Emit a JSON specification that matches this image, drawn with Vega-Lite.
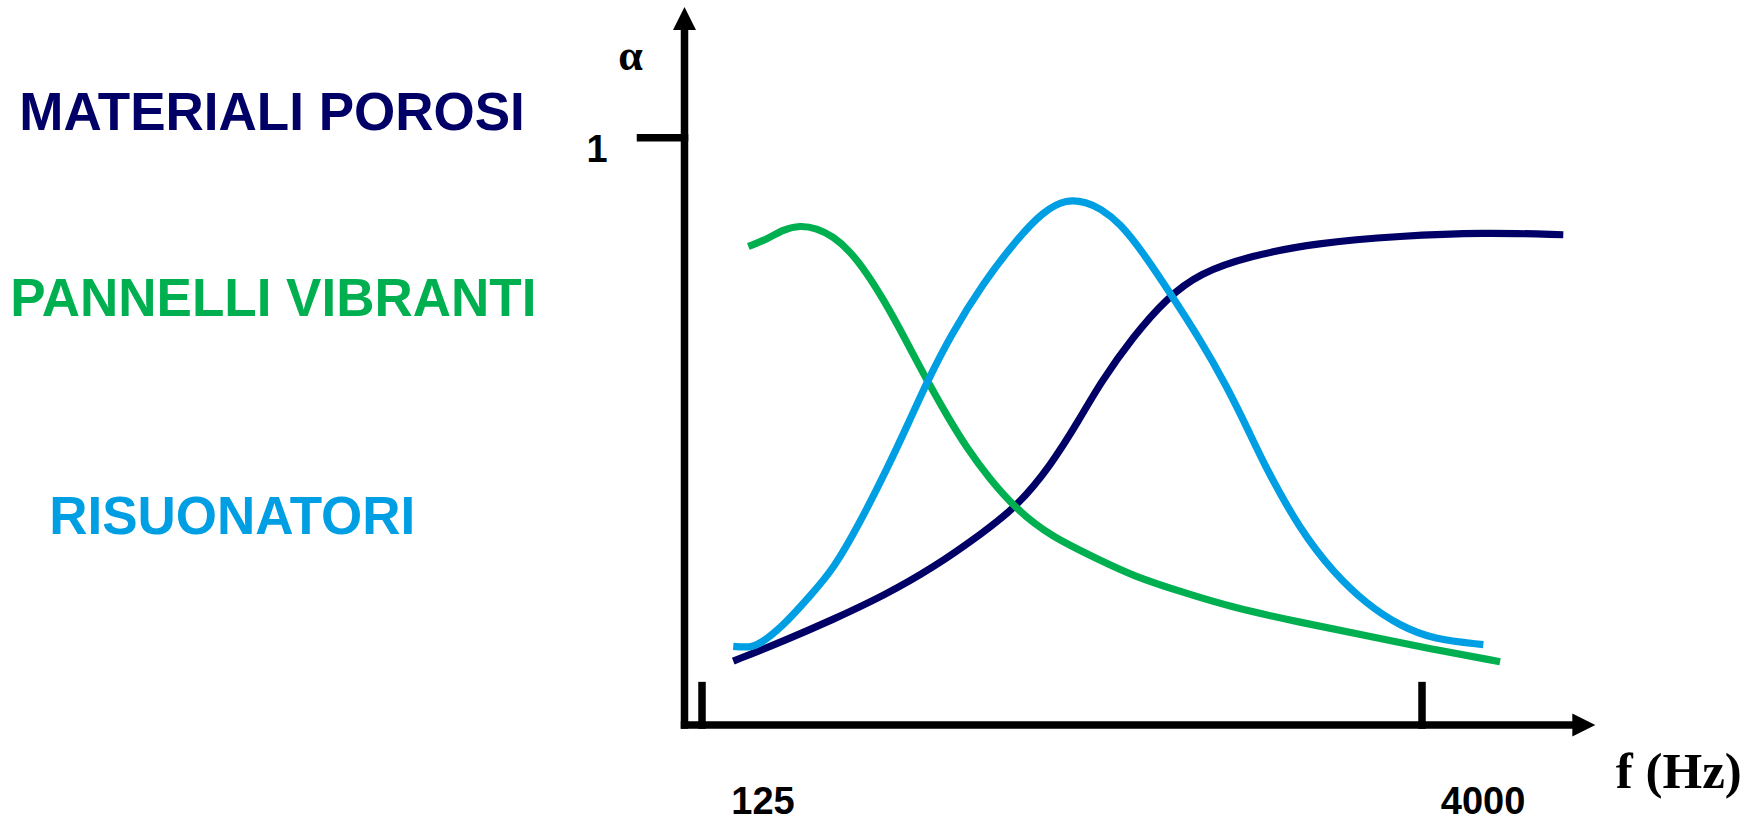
{
  "$schema": "https://vega.github.io/schema/vega-lite/v6.json",
  "width": 1752,
  "height": 822,
  "autosize": {"type": "fit", "contains": "padding"},
  "padding": 0,
  "background": "white",
  "config": {"view": {"stroke": null}},
  "datasets": {
    "curves": [
      {"series": "MATERIALI POROSI", "f": 145.3, "a": 0.109},
      {"series": "MATERIALI POROSI", "f": 184.9, "a": 0.143},
      {"series": "MATERIALI POROSI", "f": 235.2, "a": 0.180},
      {"series": "MATERIALI POROSI", "f": 299.2, "a": 0.220},
      {"series": "MATERIALI POROSI", "f": 380.6, "a": 0.268},
      {"series": "MATERIALI POROSI", "f": 484.1, "a": 0.328},
      {"series": "MATERIALI POROSI", "f": 568.5, "a": 0.372},
      {"series": "MATERIALI POROSI", "f": 667.4, "a": 0.440},
      {"series": "MATERIALI POROSI", "f": 771.1, "a": 0.522},
      {"series": "MATERIALI POROSI", "f": 849, "a": 0.582},
      {"series": "MATERIALI POROSI", "f": 996.6, "a": 0.662},
      {"series": "MATERIALI POROSI", "f": 1170.5, "a": 0.727},
      {"series": "MATERIALI POROSI", "f": 1373.9, "a": 0.770},
      {"series": "MATERIALI POROSI", "f": 1747.9, "a": 0.799},
      {"series": "MATERIALI POROSI", "f": 2410, "a": 0.821},
      {"series": "MATERIALI POROSI", "f": 3598, "a": 0.833},
      {"series": "MATERIALI POROSI", "f": 5374, "a": 0.839},
      {"series": "MATERIALI POROSI", "f": 7896, "a": 0.835},
      {"series": "PANNELLI VIBRANTI", "f": 156.2, "a": 0.815},
      {"series": "PANNELLI VIBRANTI", "f": 170.7, "a": 0.827},
      {"series": "PANNELLI VIBRANTI", "f": 184.9, "a": 0.844},
      {"series": "PANNELLI VIBRANTI", "f": 200.3, "a": 0.851},
      {"series": "PANNELLI VIBRANTI", "f": 217.1, "a": 0.846},
      {"series": "PANNELLI VIBRANTI", "f": 235.2, "a": 0.832},
      {"series": "PANNELLI VIBRANTI", "f": 254.9, "a": 0.807},
      {"series": "PANNELLI VIBRANTI", "f": 276.2, "a": 0.770},
      {"series": "PANNELLI VIBRANTI", "f": 299.2, "a": 0.725},
      {"series": "PANNELLI VIBRANTI", "f": 324.2, "a": 0.674},
      {"series": "PANNELLI VIBRANTI", "f": 351.4, "a": 0.620},
      {"series": "PANNELLI VIBRANTI", "f": 374.6, "a": 0.578},
      {"series": "PANNELLI VIBRANTI", "f": 408.5, "a": 0.524},
      {"series": "PANNELLI VIBRANTI", "f": 446.9, "a": 0.472},
      {"series": "PANNELLI VIBRANTI", "f": 500, "a": 0.418},
      {"series": "PANNELLI VIBRANTI", "f": 568.5, "a": 0.367},
      {"series": "PANNELLI VIBRANTI", "f": 667.4, "a": 0.322},
      {"series": "PANNELLI VIBRANTI", "f": 849, "a": 0.281},
      {"series": "PANNELLI VIBRANTI", "f": 995.3, "a": 0.254},
      {"series": "PANNELLI VIBRANTI", "f": 1265.8, "a": 0.226},
      {"series": "PANNELLI VIBRANTI", "f": 1610.6, "a": 0.200},
      {"series": "PANNELLI VIBRANTI", "f": 2223.6, "a": 0.175},
      {"series": "PANNELLI VIBRANTI", "f": 3065, "a": 0.152},
      {"series": "PANNELLI VIBRANTI", "f": 4218, "a": 0.129},
      {"series": "PANNELLI VIBRANTI", "f": 5824, "a": 0.108},
      {"series": "RISUONATORI", "f": 145.3, "a": 0.134},
      {"series": "RISUONATORI", "f": 157.5, "a": 0.132},
      {"series": "RISUONATORI", "f": 165.3, "a": 0.138},
      {"series": "RISUONATORI", "f": 184.9, "a": 0.169},
      {"series": "RISUONATORI", "f": 210.2, "a": 0.220},
      {"series": "RISUONATORI", "f": 235.2, "a": 0.265},
      {"series": "RISUONATORI", "f": 267.4, "a": 0.345},
      {"series": "RISUONATORI", "f": 304.1, "a": 0.435},
      {"series": "RISUONATORI", "f": 340.2, "a": 0.520},
      {"series": "RISUONATORI", "f": 368.7, "a": 0.583},
      {"series": "RISUONATORI", "f": 412.4, "a": 0.662},
      {"series": "RISUONATORI", "f": 484.1, "a": 0.753},
      {"series": "RISUONATORI", "f": 568.5, "a": 0.827},
      {"series": "RISUONATORI", "f": 646.2, "a": 0.875},
      {"series": "RISUONATORI", "f": 723.3, "a": 0.896},
      {"series": "RISUONATORI", "f": 796.5, "a": 0.890},
      {"series": "RISUONATORI", "f": 849, "a": 0.880},
      {"series": "RISUONATORI", "f": 934.9, "a": 0.855},
      {"series": "RISUONATORI", "f": 1045.9, "a": 0.804},
      {"series": "RISUONATORI", "f": 1189.2, "a": 0.736},
      {"series": "RISUONATORI", "f": 1373.9, "a": 0.657},
      {"series": "RISUONATORI", "f": 1562.6, "a": 0.577},
      {"series": "RISUONATORI", "f": 1726.9, "a": 0.505},
      {"series": "RISUONATORI", "f": 1894.1, "a": 0.435},
      {"series": "RISUONATORI", "f": 2223.6, "a": 0.333},
      {"series": "RISUONATORI", "f": 2610, "a": 0.260},
      {"series": "RISUONATORI", "f": 3065, "a": 0.206},
      {"series": "RISUONATORI", "f": 3598, "a": 0.169},
      {"series": "RISUONATORI", "f": 4224, "a": 0.146},
      {"series": "RISUONATORI", "f": 5374, "a": 0.137}
    ],
    "names": [
      {"series": "MATERIALI POROSI", "f": 15.78, "a": 1.0136},
      {"series": "PANNELLI VIBRANTI", "f": 15.88, "a": 0.6973},
      {"series": "RISUONATORI", "f": 13.03, "a": 0.3248}
    ],
    "axes": [
      {"part": "y axis", "f1": 114.9, "f2": 114.9, "a1": 0, "a2": 1.1837},
      {"part": "x axis", "f1": 114.9, "f2": 8355, "a1": 0, "a2": 0},
      {"part": "tick 1", "f1": 92.97, "f2": 114.9, "a1": 1, "a2": 1},
      {"part": "tick 125", "f1": 125, "f2": 125, "a1": 0, "a2": 0.0673},
      {"part": "tick 4000", "f1": 4000, "f2": 4000, "a1": 0, "a2": 0.0673}
    ],
    "arrows": [
      {"dir": "up", "f": 114.9, "a": 1.2034, "title": "α"},
      {"dir": "right", "f": 8715, "a": 0, "title": "f (Hz)"}
    ],
    "xticks": [
      {"f": 125, "a": 0, "label": "125"},
      {"f": 4000, "a": 0, "label": "4000"}
    ],
    "yticks": [
      {"f": 114.9, "a": 1, "label": "1"}
    ]
  },
  "layer": [
    {
      "data": {"name": "axes"},
      "mark": {"type": "rule", "color": "black", "strokeWidth": 7.5, "strokeCap": "square"},
      "encoding": {
        "x": {"field": "f1", "type": "quantitative", "scale": {"type": "log", "domain": [4.2598, 19584], "nice": false}, "axis": null},
        "x2": {"field": "f2"},
        "y": {"field": "a1", "type": "quantitative", "scale": {"domain": [-0.16327, 1.23469], "nice": false, "zero": false}, "axis": null},
        "y2": {"field": "a2"}
      }
    },
    {
      "data": {"name": "arrows"},
      "mark": {"type": "point", "filled": true, "color": "black", "opacity": 1, "size": 529, "strokeWidth": 0},
      "encoding": {
        "x": {"field": "f", "type": "quantitative", "scale": {"type": "log", "domain": [4.2598, 19584], "nice": false}, "axis": null},
        "y": {"field": "a", "type": "quantitative", "scale": {"domain": [-0.16327, 1.23469], "nice": false, "zero": false}, "axis": null},
        "shape": {"field": "dir", "type": "nominal", "scale": {"domain": ["up", "right"], "range": ["M-1,1L0,-1L1,1Z", "M-1,-1L1,0L-1,1Z"]}, "legend": null}
      }
    },
    {
      "data": {"name": "curves"},
      "mark": {"type": "line", "strokeWidth": 7.2, "interpolate": "basis", "strokeCap": "butt"},
      "encoding": {
        "x": {"field": "f", "type": "quantitative", "scale": {"type": "log", "domain": [4.2598, 19584], "nice": false}, "axis": null},
        "y": {"field": "a", "type": "quantitative", "scale": {"domain": [-0.16327, 1.23469], "nice": false, "zero": false}, "axis": null},
        "color": {"field": "series", "type": "nominal", "scale": {"domain": ["MATERIALI POROSI", "PANNELLI VIBRANTI", "RISUONATORI"], "range": ["#000066", "#00B050", "#009FE3"]}, "legend": null},
        "detail": {"field": "series"}
      }
    },
    {
      "data": {"name": "names"},
      "mark": {"type": "text", "font": "Liberation Sans", "fontWeight": "bold", "fontSize": 53, "align": "center", "baseline": "alphabetic"},
      "encoding": {
        "x": {"field": "f", "type": "quantitative", "scale": {"type": "log", "domain": [4.2598, 19584], "nice": false}, "axis": null},
        "y": {"field": "a", "type": "quantitative", "scale": {"domain": [-0.16327, 1.23469], "nice": false, "zero": false}, "axis": null},
        "text": {"field": "series"},
        "color": {"field": "series", "type": "nominal", "scale": {"domain": ["MATERIALI POROSI", "PANNELLI VIBRANTI", "RISUONATORI"], "range": ["#000066", "#00B050", "#009FE3"]}, "legend": null}
      }
    },
    {
      "data": {"name": "xticks"},
      "mark": {"type": "text", "font": "Liberation Sans", "fontWeight": "bold", "fontSize": 38, "align": "center", "baseline": "alphabetic", "dx": 61, "dy": 89, "color": "black"},
      "encoding": {
        "x": {"field": "f", "type": "quantitative", "scale": {"type": "log", "domain": [4.2598, 19584], "nice": false}, "axis": null},
        "y": {"field": "a", "type": "quantitative", "scale": {"domain": [-0.16327, 1.23469], "nice": false, "zero": false}, "axis": null},
        "text": {"field": "label"}
      }
    },
    {
      "data": {"name": "yticks"},
      "mark": {"type": "text", "font": "Liberation Sans", "fontWeight": "bold", "fontSize": 38, "align": "center", "baseline": "alphabetic", "dx": -87.5, "dy": 24.5, "color": "black"},
      "encoding": {
        "x": {"field": "f", "type": "quantitative", "scale": {"type": "log", "domain": [4.2598, 19584], "nice": false}, "axis": null},
        "y": {"field": "a", "type": "quantitative", "scale": {"domain": [-0.16327, 1.23469], "nice": false, "zero": false}, "axis": null},
        "text": {"field": "label"}
      }
    },
    {
      "data": {"name": "arrows"},
      "transform": [{"filter": "datum.dir === 'up'"}],
      "mark": {"type": "text", "font": "Liberation Serif", "fontWeight": "bold", "fontSize": 44, "align": "center", "baseline": "alphabetic", "dx": -54, "dy": 52, "color": "black"},
      "encoding": {
        "x": {"field": "f", "type": "quantitative", "scale": {"type": "log", "domain": [4.2598, 19584], "nice": false}, "axis": null},
        "y": {"field": "a", "type": "quantitative", "scale": {"domain": [-0.16327, 1.23469], "nice": false, "zero": false}, "axis": null},
        "text": {"field": "title"}
      }
    },
    {
      "data": {"name": "arrows"},
      "transform": [{"filter": "datum.dir === 'right'"}],
      "mark": {"type": "text", "font": "Liberation Serif", "fontWeight": "bold", "fontSize": 51, "align": "center", "baseline": "alphabetic", "dx": 95, "dy": 63, "color": "black"},
      "encoding": {
        "x": {"field": "f", "type": "quantitative", "scale": {"type": "log", "domain": [4.2598, 19584], "nice": false}, "axis": null},
        "y": {"field": "a", "type": "quantitative", "scale": {"domain": [-0.16327, 1.23469], "nice": false, "zero": false}, "axis": null},
        "text": {"field": "title"}
      }
    }
  ]
}
